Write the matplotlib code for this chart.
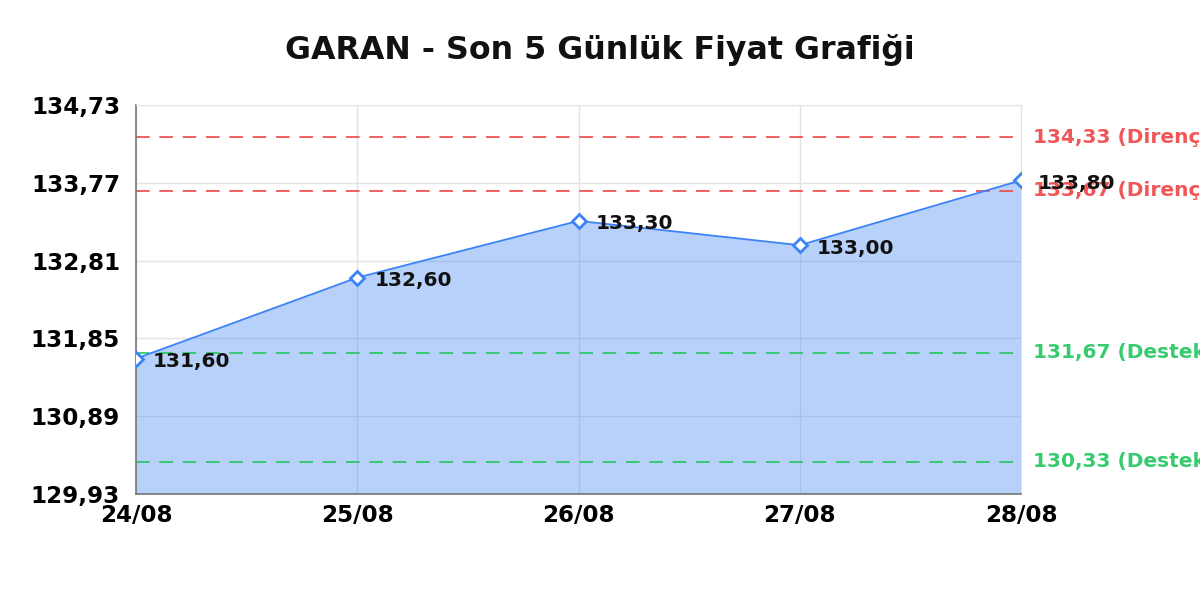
import matplotlib
matplotlib.use("Agg")
import matplotlib.pyplot as plt
from matplotlib.ticker import FixedLocator, FuncFormatter

dates = ["24/08", "25/08", "26/08", "27/08", "28/08"]
prices = [131.60, 132.60, 133.30, 133.00, 133.80]
resistance = [134.33, 133.67]
support = [131.67, 130.33]
y_ticks = [129.93, 130.89, 131.85, 132.81, 133.77, 134.73]
title = "GARAN - Son 5 Günlük Fiyat Grafiği"

BLUE = "#3b82f6"
RED = "#ef4444"
GREEN = "#22c55e"

def tr(v):
    return f"{v:.2f}".replace(".", ",")

plt.rcParams['font.family'] = ['DejaVu Sans']
fig = plt.figure(figsize=(12, 6), dpi=100)
ax = fig.add_axes([136/1200, 1-494/600, (1021-136)/1200, (494-105)/600])

x = list(range(len(dates)))
ax.fill_between(x, prices, y_ticks[0], color=BLUE, alpha=0.36, linewidth=0, zorder=1)
ax.plot(x, prices, color=BLUE, linewidth=1.3, zorder=3,
        marker="D", markersize=7, markerfacecolor="white",
        markeredgecolor=BLUE, markeredgewidth=2)

for xi, p in zip(x, prices):
    ax.annotate(tr(p), (xi, p), xytext=(17, -3), textcoords="offset pixels",
                ha="left", va="center", fontsize=14.5, fontweight="bold",
                color="#111111", zorder=5, annotation_clip=False)

trans = ax.get_yaxis_transform()
for r in resistance:
    ax.axhline(r, color=RED, linewidth=1.4, dashes=(7, 5), alpha=0.85, zorder=2)
    ax.text(1.0135, r, f"{tr(r)} (Direnç)", transform=trans, ha="left", va="center",
            fontsize=14.5, fontweight="bold", color=RED, alpha=0.9, clip_on=False)
for s in support:
    ax.axhline(s, color=GREEN, linewidth=1.4, dashes=(7, 5), alpha=0.85, zorder=2)
    ax.text(1.0135, s, f"{tr(s)} (Destek)", transform=trans, ha="left", va="center",
            fontsize=14.5, fontweight="bold", color=GREEN, alpha=0.9, clip_on=False)

ax.set_xlim(0, len(dates) - 1)
ax.set_ylim(y_ticks[0], y_ticks[-1])
ax.set_xticks(x)
ax.set_xticklabels(dates)
ax.yaxis.set_major_locator(FixedLocator(y_ticks))
ax.yaxis.set_major_formatter(FuncFormatter(lambda v, pos: tr(v)))
ax.tick_params(axis="both", length=0, labelsize=16.6)
ax.tick_params(axis="x", pad=7)
ax.tick_params(axis="y", pad=11.5)
for lbl in ax.get_xticklabels() + ax.get_yticklabels():
    lbl.set_fontweight("bold")

ax.grid(True, color="#e3e3e3", linewidth=1, zorder=0)
ax.set_axisbelow(True)
for side in ("top", "right"):
    ax.spines[side].set_color("#e3e3e3")
for side in ("left", "bottom"):
    ax.spines[side].set_color("#777777")
    ax.spines[side].set_linewidth(1.2)

fig.text(0.5, 1 - 50/600, title, ha="center", va="center",
         fontsize=22.8, fontweight="bold", color="#111111")

fig.savefig("out.png", dpi=100)
